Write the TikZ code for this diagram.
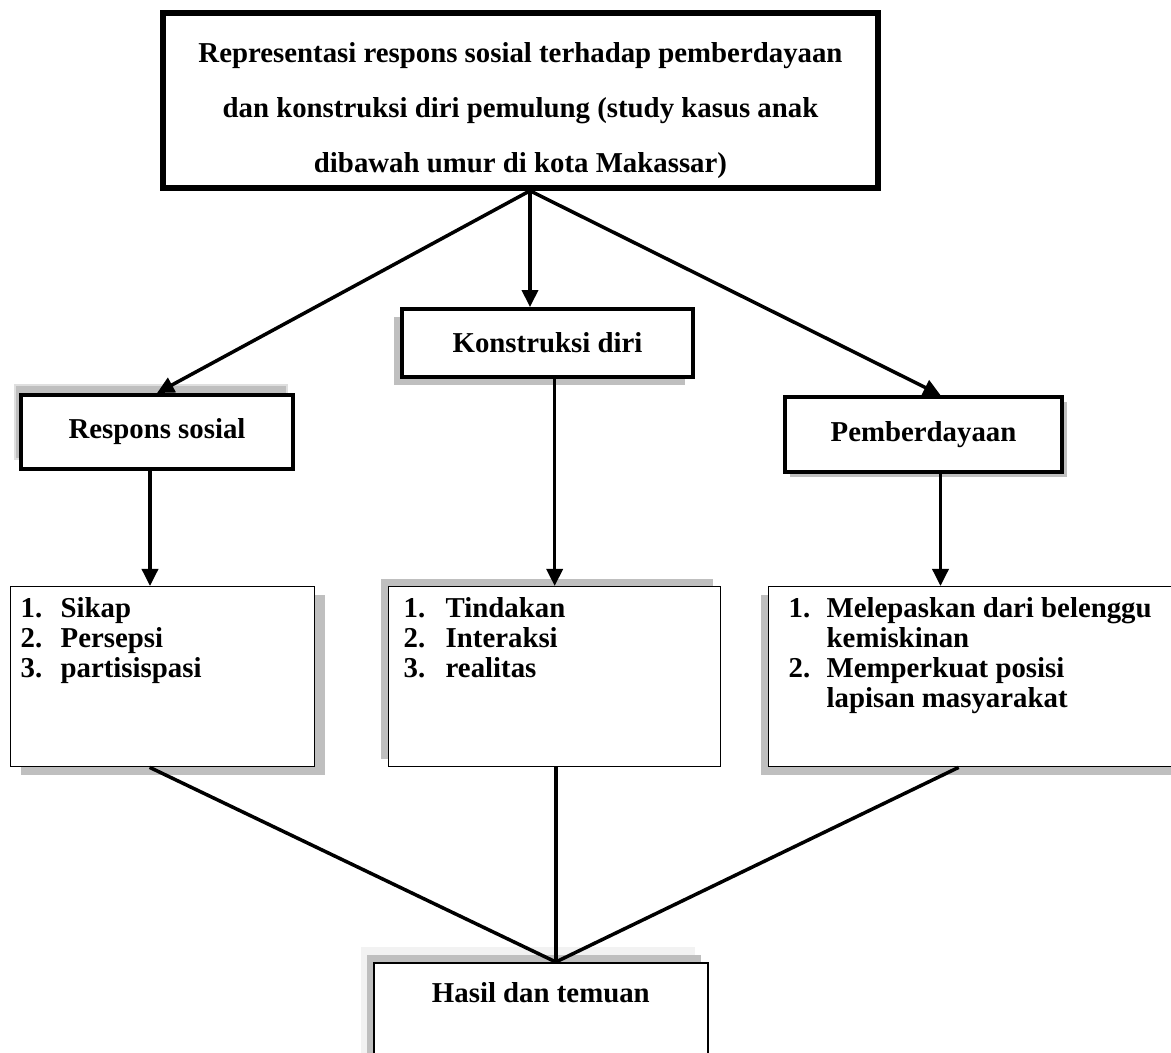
\documentclass[tikz,border=0pt]{standalone}
\usepackage{fontspec}
\setmainfont{Liberation Serif}
\usetikzlibrary{arrows.meta,shadows}

\newcommand{\daftar}[4]{\parbox[c][3.6cm][t]{#1}{\vspace*{0.2cm}\hspace*{#2}\begin{tabular}{@{}p{#3}@{}l@{}}#4\end{tabular}}}

\begin{document}
\begin{tikzpicture}[x=0.02cm,y=-0.02cm,
  font=\fontsize{16.4}{17}\selectfont\bfseries,
  judulbox/.style={draw, line width=3.2pt, minimum width=14.3cm, minimum height=3.5cm, align=center, font=\fontsize{16.4}{31.3}\selectfont\bfseries},
  kepala/.style={draw, fill=white, line width=2.2pt, inner sep=0pt},
  isian/.style={draw, fill=white, line width=0.8pt, inner sep=0pt, anchor=north west},
  bayang/.style={drop shadow={opacity=1, fill=gray!50, #1}},
  panah/.style={line width=2pt, -{Triangle[length=0.34cm,width=0.32cm]}},
  garis/.style={line width=2pt}]
\useasboundingbox (0,0) rectangle (1171,1053);
\node[judulbox] (judul) at (520.5,100.5) {\rule{0pt}{23pt}Representasi respons sosial terhadap pemberdayaan\\dan konstruksi diri pemulung (study kasus anak\\dibawah umur di kota Makassar)};
\node[kepala, bayang={shadow xshift=-0.12cm, shadow yshift=0.2cm, draw=gray!25, line width=1pt}, minimum width=5.44cm, minimum height=1.48cm] (respons) at (157,432) {Respons sosial};
\node[kepala, bayang={shadow xshift=-0.16cm, shadow yshift=-0.16cm}, minimum width=5.82cm, minimum height=1.36cm] (konstruksi) at (547.5,343) {Konstruksi diri};
\node[kepala, bayang={shadow xshift=0.1cm, shadow yshift=-0.1cm}, minimum width=5.54cm, minimum height=1.5cm] (daya) at (923.5,434.5) {Pemberdayaan};
\node[isian, bayang={shadow xshift=0.2cm, shadow yshift=-0.16cm}] (sikap) at (10,586) {\daftar{6.08cm}{0.2cm}{0.8cm}{1.&Sikap\\2.&Persepsi\\3.&partisispasi}};
\node[isian, bayang={shadow xshift=-0.16cm, shadow yshift=0.16cm}] (tindakan) at (388,586) {\daftar{6.64cm}{0.3cm}{0.84cm}{1.&Tindakan\\2.&Interaksi\\3.&realitas}};
\node[isian, bayang={shadow xshift=-0.16cm, shadow yshift=-0.16cm}] (lepas) at (768,586) {\daftar{8.2cm}{0.4cm}{0.76cm}{1.&Melepaskan dari belenggu\\&kemiskinan\\2.&Memperkuat posisi\\&lapisan masyarakat}};
\node[isian, line width=1pt, bayang={shadow xshift=-0.26cm, shadow yshift=0.32cm, fill=gray!10}, bayang={shadow xshift=-0.14cm, shadow yshift=0.16cm}] (hasil) at (373,962) {\parbox[c][3.6cm][t]{6.68cm}{\vspace*{0.4cm}\centering Hasil dan temuan}};
\coordinate (pangkal) at ([xshift=0.19cm]judul.south);
\coordinate (temu) at ([xshift=0.3cm]hasil.north);
\draw[panah] (pangkal) -- (respons.north);
\draw[panah] (pangkal) -- (pangkal |- konstruksi.north);
\draw[panah] (pangkal) -- ([xshift=0.34cm]daya.north);
\draw[panah] ([xshift=-0.14cm]respons.south) -- ([xshift=-0.14cm]respons.south |- sikap.north);
\draw[panah] (konstruksi.south -| tindakan.north) -- (tindakan.north);
\draw[panah] ([xshift=0.34cm]daya.south) -- ([xshift=0.34cm]daya.south |- lepas.north);
\draw[garis] ([xshift=-0.26cm]sikap.south) -- (temu);
\draw[garis] (temu |- tindakan.south) -- (temu);
\draw[garis] ([xshift=-0.3cm]lepas.south) -- (temu);
\end{tikzpicture}
\end{document}
